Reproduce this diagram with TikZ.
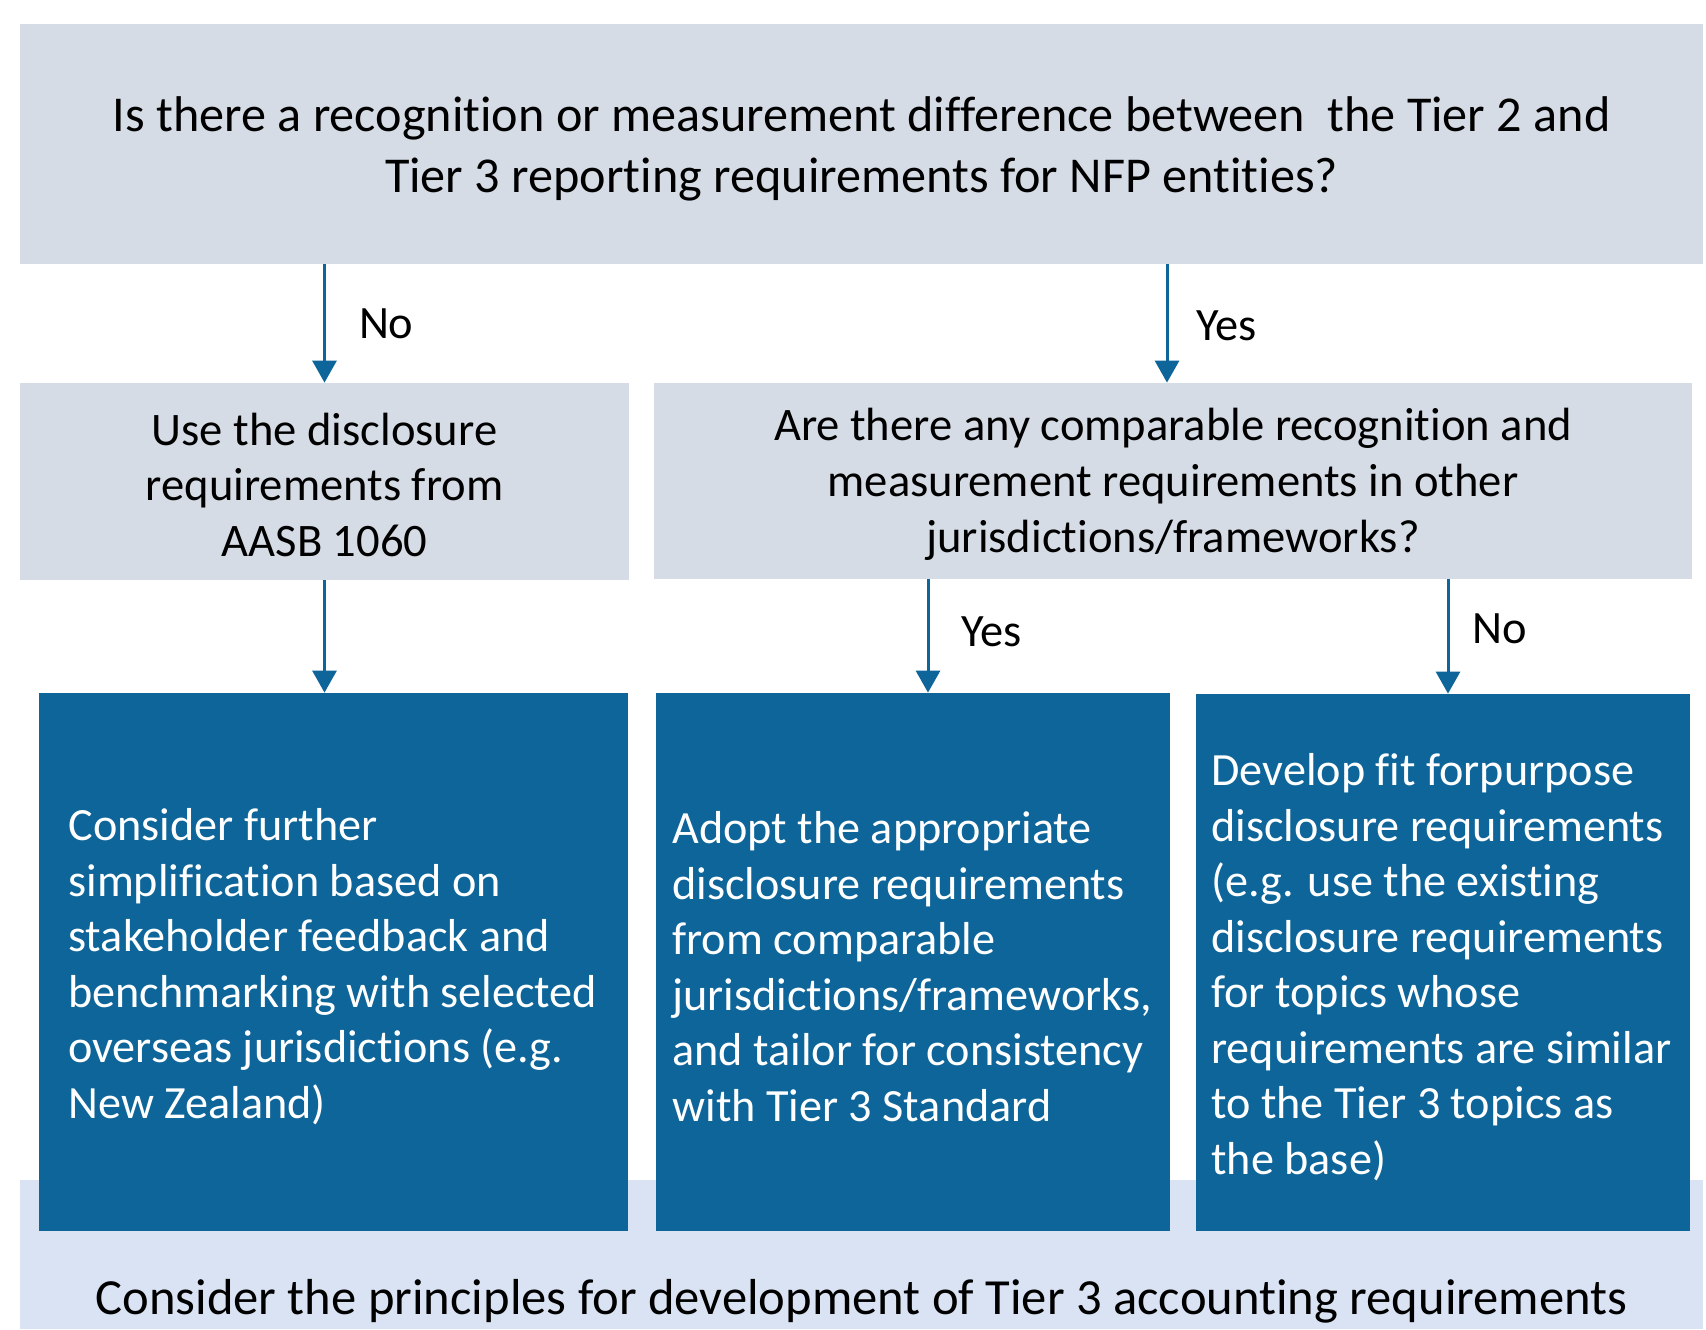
\documentclass[tikz,border=0pt]{standalone}
\usepackage{fontspec}
\setmainfont{Carlito}[Ligatures=NoCommon]
\usetikzlibrary{arrows.meta}
\definecolor{grayfill}{RGB}{214,220,229}
\definecolor{bluefill}{RGB}{13,101,153}
\definecolor{botfill}{RGB}{218,227,243}
\begin{document}
\begin{tikzpicture}[x=0.5pt,y=-0.5pt,
  graybox/.style={fill=grayfill, draw=none, inner sep=0pt},
  graytext/.style={inner sep=0pt, align=center, text=black,
     font=\fontsize{23.3}{27.75}\selectfont},
  bluebox/.style={fill=bluefill, draw=none, inner sep=0pt},
  bluetext/.style={anchor=west, inner sep=0pt, align=left, text=white,
     font=\fontsize{23.1}{27.75}\selectfont},
  arr/.style={draw=bluefill, line width=1.5pt, -{Triangle[length=11pt,width=12pt]}},
  lbl/.style={anchor=west, inner sep=0pt, text=black, font=\fontsize{23.2}{27.75}\selectfont}
]
\useasboundingbox (0,0) rectangle (1706,1329);
\fill[white] (0,0) rectangle (1706,1329);

% bottom band
\node[fill=botfill, inner sep=0pt, minimum width=841.5pt, minimum height=74.5pt] (bot) at (861.5,1254.5) {};
\node[inner sep=0pt, font=\fontsize{25.3}{30.5}\selectfont] (bottext) at (861.5,1301.3) {Consider the principles for development of Tier 3 accounting requirements};

% top question
\node[graybox, minimum width=841.5pt, minimum height=120pt] (top) at (861.5,144) {};
\node[graytext, font=\fontsize{25.1}{30.5}\selectfont] (toptext) at (861.5,148.4)
 {Is there a recognition or measurement difference between \ the Tier 2 and\\Tier 3 reporting requirements for NFP entities?};

% second row
\node[graybox, minimum width=304.5pt, minimum height=98.5pt] (lg) at (324.5,481.5) {};
\node[graytext] (lgtext) at (324.5,484.8) {Use the disclosure\\requirements from\\AASB 1060};
\node[graybox, minimum width=519pt, minimum height=98pt] (rg) at (1173,481) {};
\node[graytext] (rgtext) at (1173,484.3) {Are there any comparable recognition and\\measurement requirements in other\\jurisdictions/frameworks?};

% blue boxes
\node[bluebox, minimum width=294.5pt, minimum height=269pt] (b1) at (333.5,962) {};
\node[bluebox, minimum width=257pt, minimum height=269pt] (b2) at (913,962) {};
\node[bluebox, minimum width=247pt, minimum height=268.5pt] (b3) at (1443,962.5) {};

\node[bluetext] (t1) at (68,966.4) {Consider further\\simplification based on\\stakeholder feedback and\\benchmarking with selected\\overseas jurisdictions (e.g.\\New Zealand)};
\node[bluetext] (t2) at (672,966.4) {Adopt the appropriate\\disclosure requirements\\from comparable\\jurisdictions/frameworks,\\and tailor for consistency\\with Tier 3 Standard};
\node[bluetext] (t3) at (1211,967.3) {Develop fit forpurpose\\disclosure requirements\\(e.g. use the existing\\disclosure requirements\\for topics whose\\requirements are similar\\to the Tier 3 topics as\\the base)};

% connectors
\draw[arr] (top.south -| lg.north) -- node[lbl, xshift=16.5pt]{No} (lg.north);
\draw[arr] ([xshift=-3pt]top.south -| rg.north) -- node[lbl, xshift=14pt, yshift=-1pt]{Yes} ([xshift=-3pt]rg.north);
\draw[arr] (lg.south) -- (lg.south |- b1.north);
\draw[arr] ([xshift=7.5pt]rg.south -| b2.north) -- node[lbl, xshift=16pt, yshift=2pt]{Yes} ([xshift=7.5pt]b2.north);
\draw[arr] ([xshift=2.5pt]rg.south -| b3.north) -- node[lbl, xshift=11.5pt, yshift=4pt]{No} ([xshift=2.5pt]b3.north);
\end{tikzpicture}
\end{document}
